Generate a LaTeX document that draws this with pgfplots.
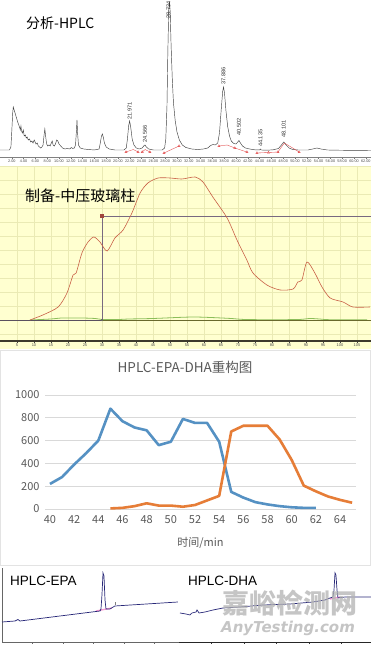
\documentclass[border=0pt]{standalone}
\usepackage{fontspec}
\setmainfont{Noto Sans CJK SC}
\newfontfamily\arial{Liberation Sans}
\newfontfamily\dejavu{DejaVu Sans}
\usepackage{pgfplots}
\pgfplotsset{compat=1.18}
\definecolor{epa}{RGB}{85,145,195}
\definecolor{dha}{RGB}{230,125,55}
\definecolor{ybg}{RGB}{255,255,208}
\definecolor{ygrid}{RGB}{234,234,180}
\definecolor{prep}{RGB}{200,95,70}
\definecolor{prepgreen}{RGB}{140,190,90}
\definecolor{navy}{RGB}{40,40,120}
\definecolor{txtgray}{RGB}{89,89,89}
\definecolor{basel}{RGB}{90,80,95}
\definecolor{baser}{RGB}{105,105,45}
\definecolor{marker}{RGB}{120,105,128}
\definecolor{sq}{RGB}{160,70,60}
\definecolor{intred}{RGB}{225,70,70}
\begin{document}
\begin{tikzpicture}[x=1pt,y=1pt]
\fill[white] (0,0) rectangle (371,648);
\useasboundingbox (0,0) rectangle (371,648);
\fill[ybg] (0,299) rectangle (371,482);
\draw[gray!22] (0.5,83) rectangle (370,298);

% ---------- analytical HPLC ----------
\begin{axis}[at={(0pt,491pt)}, anchor=south west, scale only axis, width=371pt, height=157pt,
  xmin=0, xmax=62.88, ymin=-6, ymax=151, clip=false,
  axis line style={draw=none}, ytick=\empty,
  xtick={2,4,...,62}, minor x tick num=9, tick pos=bottom, tick align=outside,
  major tick length=1.8pt, minor tick length=1.2pt,
  xtick style={draw=black!55, line width=0.3pt}, minor x tick style={draw=black!45, line width=0.3pt},
  xticklabel style={font=\arial\fontsize{3.8}{4}\selectfont, text=black!70, inner sep=0.6pt},
  /pgf/number format/.cd, fixed, fixed zerofill, precision=2, assume math mode=true]
\draw[black!50, line width=0.3pt] (rel axis cs:0,0) -- (rel axis cs:1,0);
\addplot[black!75, line width=0.45pt] coordinates {
(0,1)(1.6,1)(1.85,4)(2.0,20)(2.15,38)(2.25,44)(2.4,41)(2.7,35)(3.0,29)(3.3,24)(3.45,21)(3.55,25)(3.65,20)(3.8,18)(3.95,21)(4.1,15)(4.3,16)(4.45,13)(4.6,14)(4.8,11)(5.0,12)(5.2,9)(5.4,10)(5.6,8)(5.8,11)(5.95,9)(6.1,7)(6.3,8)(6.5,5)(6.7,4)(6.9,3)(7.1,4)(7.3,6)(7.45,15)(7.6,22)(7.75,14)(7.9,7)(8.1,5)(8.3,6)(8.5,5)(8.7,8)(8.85,10)(9.0,6)(9.2,5)(9.4,7)(9.6,11)(9.8,10)(10.0,7)(10.3,5)(10.6,3)(11.0,2)(11.4,2.5)(11.8,2)(12.1,3.5)(12.3,2.5)(12.6,3)(12.8,6)(12.95,20)(13.05,31)(13.15,18)(13.3,6)(13.6,3)(14.2,2)(15,1.5)(16,1)(16.8,2)(17.0,8)(17.2,15)(17.35,17)(17.5,14)(17.7,8)(18.0,4)(18.5,2)(19.5,1)(21.0,1)(21.4,3)(21.6,12)(21.8,25)(21.97,30)(22.15,24)(22.4,12)(22.7,6)(23.1,3)(23.6,2)(24.1,3)(24.35,5)(24.57,6)(24.8,4)(25.2,2)(26,1)(27.5,1)(27.9,3)(28.1,12)(28.3,45)(28.45,100)(28.6,142)(28.73,149)(28.85,138)(29.0,105)(29.2,72)(29.4,48)(29.7,30)(30.0,19)(30.4,11)(30.9,6)(31.5,3.5)(32.5,2)(33.5,1.5)(34.5,2)(35.2,3)(35.7,5.5)(36.1,6.5)(36.5,6)(36.9,8)(37.2,18)(37.5,42)(37.75,60)(37.886,64)(38.05,58)(38.3,40)(38.6,24)(38.9,15)(39.2,10)(39.6,7.5)(40.0,7)(40.3,9)(40.5,10.5)(40.75,8)(41.1,5)(41.6,3)(42.3,2)(43.2,1.2)(44.0,1)(44.135,2)(44.3,1)(45.3,0.8)(46.3,1.2)(47.2,2.5)(47.7,6)(48.1,9)(48.5,6)(49.0,3)(49.6,1.5)(50.5,1)(52.2,1)(53.0,2)(53.7,3)(54.4,2)(55.5,1)(57,0.8)(60,0.6)(62.88,0.5)};
\addplot[intred, line width=0.35pt] coordinates {(21.35,-1)(22.6,1.5)(23.4,-1)};
\addplot[intred, line width=0.35pt] coordinates {(24.1,-1)(24.6,1.5)(25.4,-1)};
\addplot[intred, line width=0.35pt] coordinates {(27.8,-2)(30.35,5)};
\addplot[intred, line width=0.35pt] coordinates {(37.1,5)(38.5,6)(39.8,3)(41.85,-1)};
\addplot[intred, line width=0.35pt] coordinates {(43.55,-2)(45.5,-1.5)(47.1,-1)};
\addplot[intred, line width=0.35pt] coordinates {(47.1,-1)(48.2,8)(50.7,-1)};
\addplot[intred, only marks, mark=triangle, mark size=1.3pt, mark options={line width=0.3pt}] coordinates {
(21.35,-1)(23.4,-1)(24.1,-1)(25.4,-1)(27.8,-2)(30.35,5)(37.1,5)(39.8,3)(41.85,-1)(43.55,-2)(45.5,-1.5)(47.1,-1)(50.7,-1)};
\tikzset{pk/.style={rotate=90, anchor=west, font=\arial\fontsize{5.6}{6}\selectfont, text=black!80, inner sep=0.5pt}}
\node[pk] at (axis cs:21.971,31) {21.971};
\node[pk] at (axis cs:24.566,8) {24.566};
\node[pk] at (axis cs:28.55,132) {28.734};
\node[pk] at (axis cs:37.886,66) {37.886};
\node[pk] at (axis cs:40.502,15) {40.502};
\node[pk] at (axis cs:44.135,3.5) {44.135};
\node[pk] at (axis cs:48.101,13) {48.101};
\end{axis}
\node[anchor=west, font=\fontsize{14}{14}\selectfont, inner sep=0pt] at (26,624.5) {分析-HPLC};

% ---------- preparative ----------
\begin{axis}[at={(0pt,307pt)}, anchor=south west, scale only axis, width=371pt, height=175pt,
  xmin=0, xmax=109.12, ymin=-21, ymax=154, clip=false,
  axis line style={draw=none},
  xtick={5,10,...,105}, ytick={-14,0,14,...,154}, yticklabels={},
  grid=major, grid style={ygrid, line width=0.5pt},
  ytick style={draw=none}, xtick style={draw=black!75, line width=0.4pt},
  tick pos=bottom, tick align=outside, major tick length=2pt,
  xticklabel style={font=\arial\fontsize{4}{4}\selectfont, text=black!70, inner sep=1pt},
  /pgf/number format/assume math mode=true]
\draw[black!75!olive, line width=1.1pt] (rel axis cs:0,0) -- (rel axis cs:1,0);
\addplot[prepgreen, line width=0.8pt, smooth] coordinates {
(8.8,0)(15,1)(18,2)(24,2)(28,1.5)(30,0.5)(35,0.5)(38,1)(45,1.5)(52,2.5)(57,3)(62,2.5)(68,1.5)(72,0.5)(80,0.3)(88,0.5)(91,1.5)(94,1)(97,0.3)(108,0.3)};
\addplot[basel, line width=0.7pt] coordinates {(0,0)(30,0)};
\addplot[baser, line width=0.7pt] coordinates {(30,0)(109.12,0)};
\addplot[marker, line width=0.6pt] coordinates {(30,0)(30,104)};
\addplot[marker, line width=0.6pt] coordinates {(30,104)(109.12,104)};
\addplot[prep, line width=0.6pt, smooth, tension=0.45] coordinates {
(8.8,0)(12.6,5)(17.1,13)(19.7,27)(21.5,45)(22.4,47)(24.1,67)(25.9,78)(27.6,83)(29.4,78)(31.5,69)(33.8,82)(36.2,90)(38.8,107)(41.2,127)(43.5,137)(46.5,142)(50.0,142)(53.5,141)(57.4,143)(59.7,138)(62.6,123)(66.8,102)(69.7,80)(72.6,60)(74.4,47)(78.5,35)(82.4,30)(86.2,31)(87.6,38)(88.8,40)(90.3,58)(92.6,47)(94.7,33)(97.1,22)(100.9,18)(103.8,13)(108.8,13)};
\addplot[sq, only marks, mark=square*, mark size=1.4pt] coordinates {(30,104)};
\addplot[black!60, only marks, mark=*, mark size=0.9pt] coordinates {(30,0)};
\end{axis}
\node[anchor=west, font=\fontsize{15}{15}\selectfont, inner sep=0pt] at (25,452) {制备-中压玻璃柱};

% ---------- reconstructed chart ----------
\begin{axis}[at={(45pt,139pt)}, anchor=south west, scale only axis, width=311pt, height=114pt,
  xmin=39.59, xmax=65.32, ymin=0, ymax=1000, clip=false,
  axis line style={draw=none}, tick style={draw=none},
  ytick={0,200,...,1000}, xtick={40,42,...,64},
  ymajorgrids, grid style={black!15, line width=0.6pt},
  ticklabel style={font=\fontsize{11}{11}\selectfont, text=txtgray},
  xticklabel style={yshift=-3pt}, yticklabel style={xshift=-2pt},
  /pgf/number format/.cd, assume math mode=true, set thousands separator={}]
\addplot[epa, line width=2.6pt, line join=round] coordinates {
(40,220)(41,280)(42,390)(43,490)(44,600)(45,880)(46,770)(47,715)(48,690)(49,560)(50,590)(51,790)(52,755)(53,755)(54,590)(55,150)(56,100)(57,60)(58,40)(59,25)(60,15)(61,10)(62,10)};
\addplot[dha, line width=2.6pt, line join=round] coordinates {
(45,5)(46,10)(47,25)(48,50)(49,30)(50,30)(51,20)(52,35)(53,75)(54,115)(55,680)(56,730)(57,730)(58,730)(59,610)(60,430)(61,205)(62,155)(63,110)(64,80)(65,55)};
\end{axis}
\node[font=\fontsize{13.5}{13.5}\selectfont, text=txtgray] at (185,281) {HPLC-EPA-DHA重构图};
\node[font=\fontsize{11}{11}\selectfont, text=txtgray] at (200.5,105) {时间/min};

% ---------- HPLC-EPA ----------
\begin{axis}[at={(2pt,6pt)}, anchor=south west, scale only axis, width=177pt, height=74pt,
  xmin=0, xmax=29.02, ymin=0, ymax=74, clip=false,
  axis line style={draw=none}, ytick=\empty, xtick={5,10,...,25}, xticklabels={},
  tick pos=bottom, tick align=outside, major tick length=2pt, xtick style={draw=black!60, line width=0.4pt}]
\draw[black!60, line width=0.5pt] (rel axis cs:0,0) -- (rel axis cs:1,0);
\draw[black!60, line width=0.5pt] (rel axis cs:0,0) -- (rel axis cs:0,1);
\addplot[magenta!40, line width=1.3pt] coordinates {(15.4,31)(18.0,34)};
\addplot[navy, line width=0.7pt] coordinates {
(0,20)(2.13,21)(2.62,22.5)(2.95,21)(9.5,26)(16.07,31)(16.23,33)(16.39,47)(16.56,69)(16.72,66)(16.89,42)(17.05,33)(17.7,33)(18.5,36)(28.85,40)};
\addplot[black!50, line width=0.4pt] coordinates {(18.5,37)(18.5,40)};
\end{axis}
\node[anchor=west, font=\arial\fontsize{13.5}{13.5}\selectfont, inner sep=0pt] at (10,67.5) {HPLC-EPA};

% ---------- HPLC-DHA ----------
\begin{axis}[at={(179pt,6pt)}, anchor=south west, scale only axis, width=192pt, height=74pt,
  xmin=0, xmax=29.54, ymin=0, ymax=74, clip=false,
  axis line style={draw=none}, ytick=\empty, xtick={5,10,...,25}, xticklabels={},
  tick pos=bottom, tick align=outside, major tick length=2pt, xtick style={draw=black!80, line width=0.4pt}]
\draw[black!85, line width=0.6pt] (rel axis cs:0,0) -- (rel axis cs:1,0);
\addplot[magenta!40, line width=1.3pt] coordinates {(23.23,43)(24.77,45)};
\addplot[navy, line width=0.7pt] coordinates {
(0.15,29)(1.08,28)(1.69,27)(2.0,29)(2.62,30)(2.77,32)(3.08,29)(4.0,30)(5.23,32)(6.77,34)(9.38,35)(12.92,37)(17.08,38)(20.62,40)(22.46,42)(23.23,44)(23.69,45)(23.85,52)(24.0,69)(24.15,67)(24.31,52)(24.46,44)(25.54,45)(26.77,45)(29.54,45)};
\end{axis}
\node[anchor=west, font=\arial\fontsize{13.5}{13.5}\selectfont, inner sep=0pt] at (188,67.5) {HPLC-DHA};

% ---------- watermark ----------
\node[text=black!30, opacity=0.75, font=\bfseries\fontsize{27}{27}\selectfont, inner sep=0pt] at (290,45) {嘉峪检测网};
\node[text=black!30, opacity=0.75, font=\dejavu\bfseries\itshape\fontsize{15}{15}\selectfont, inner sep=0pt] at (288,19.5) {AnyTesting.com};
\end{tikzpicture}
\end{document}
